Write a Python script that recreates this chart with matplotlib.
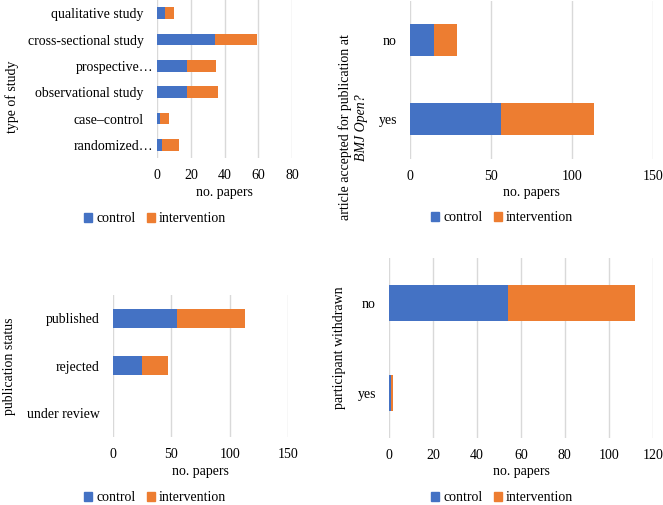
import numpy as np
import matplotlib
matplotlib.use('Agg')
import matplotlib.pyplot as plt
from matplotlib.patches import Patch
import matplotlib.transforms as mtransforms

plt.rcParams['font.family'] = ['Liberation Serif', 'DejaVu Serif']
plt.rcParams['font.size'] = 10

# ---------------- data ----------------
series_names = ['control', 'intervention']

study_types = ['qualitative study', 'cross-sectional study', 'prospective…',
               'observational study', 'case–control', 'randomized…']
study_control = [5, 34, 18, 18, 2, 3]
study_intervention = [5, 25, 17, 18, 5, 10]

accepted_cats = ['no', 'yes']
accepted_control = [15, 56]
accepted_intervention = [14, 58]

status_cats = ['published', 'rejected', 'under review']
status_control = [55, 25, 0]
status_intervention = [58, 22, 0]

withdrawn_cats = ['no', 'yes']
withdrawn_control = [54, 1]
withdrawn_intervention = [58, 1]

# ---------------- style ----------------
BLUE = '#4472C4'
ORANGE = '#ED7D31'
GRID = '#D9D9D9'
W, H = 663, 505

fig = plt.figure(figsize=(W / 100, H / 100), dpi=100)


def ax_at(l, r, t, b):
    return fig.add_axes([l / W, 1 - b / H, (r - l) / W, (b - t) / H])


def panel(ax, cats, ctrl, intv, xmax, step, hfrac):
    y = np.arange(len(cats))
    ax.barh(y, ctrl, height=hfrac, color=BLUE, zorder=2)
    ax.barh(y, intv, left=ctrl, height=hfrac, color=ORANGE, zorder=2)
    ax.set_ylim(len(cats) - 0.5, -0.5)
    ax.set_xlim(0, xmax)
    ax.set_xticks(np.arange(0, xmax + 1, step))
    ax.set_yticks(y)
    ax.set_yticklabels(cats)
    for s in ax.spines.values():
        s.set_visible(False)
    ax.tick_params(axis='both', length=0, labelsize=10)
    ax.tick_params(axis='x', pad=8)
    ax.tick_params(axis='y', pad=9.4)
    ax.xaxis.grid(True, color=GRID, lw=1.0, zorder=0)
    ax.set_axisbelow(True)
    ax.set_facecolor('none')
    return ax


def legend_at(cx, cy):
    handles = [Patch(color=BLUE), Patch(color=ORANGE)]
    fig.legend(handles, series_names, loc='center',
               bbox_to_anchor=(cx / W, 1 - cy / H), ncol=2, frameon=False,
               handlelength=0.6, handleheight=0.6, handletextpad=0.3,
               columnspacing=0.8, borderaxespad=0, borderpad=0, fontsize=10)


def ftext(x, y, s, **kw):
    fig.text(x / W, 1 - y / H, s, ha='center', va='center', fontsize=10, **kw)


# Panel 1: type of study
ax1 = panel(ax_at(157, 292.3, 0, 158), study_types, study_control,
            study_intervention, 80, 20, 0.44)
off = mtransforms.ScaledTranslation(9 / 100, 0, fig.dpi_scale_trans)
for lab in ax1.get_yticklabels():
    if lab.get_text().endswith('…'):
        lab.set_transform(lab.get_transform() + off)
ftext(224.6, 192.5, 'no. papers')
ftext(12, 97, 'type of study', rotation=90)
legend_at(155, 219)

# Panel 2: accepted at BMJ Open
ax2 = panel(ax_at(410, 652.7, 0.5, 158.5), accepted_cats, accepted_control,
            accepted_intervention, 150, 50, 0.4)
ftext(531, 192.5, 'no. papers')
ftext(345, 127.5, 'article accepted for publication at', rotation=90)
ftext(362, 127.5, 'BMJ Open?', rotation=90, style='italic')
legend_at(502, 218)

# Panel 3: publication status
ax3 = panel(ax_at(113, 288, 294.6, 436.8), status_cats, status_control,
            status_intervention, 150, 50, 0.39)
ftext(200.5, 471, 'no. papers')
ftext(10, 366, 'publication status', rotation=90)
legend_at(155, 497.7)

# Panel 4: participant withdrawn
ax4 = panel(ax_at(389, 652.7, 258.3, 438), withdrawn_cats, withdrawn_control,
            withdrawn_intervention, 120, 20, 0.4)
ftext(521, 471, 'no. papers')
ftext(340, 348, 'participant withdrawn', rotation=90)
legend_at(502, 497.7)

fig.savefig('out.png', dpi=100)
